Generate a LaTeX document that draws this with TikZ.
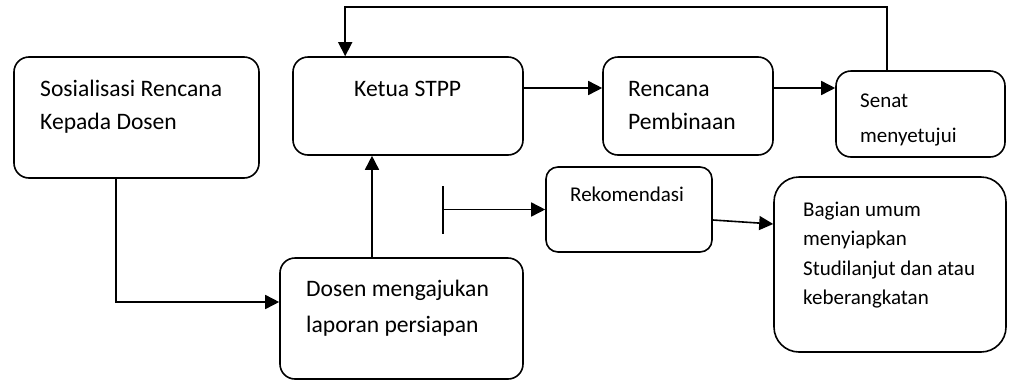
\documentclass[tikz,border=0pt]{standalone}
\usepackage{fontspec}
\setmainfont{Carlito}
\usetikzlibrary{arrows.meta}
\begin{document}
\begin{tikzpicture}[x=1pt,y=-1pt,
  box/.style={draw, line width=1.6pt, rounded corners=15pt, inner sep=0pt},
  conn/.style={line width=1.6pt},
  arr/.style={conn, -{Triangle[length=14pt,width=14pt]}},
  txt/.style={anchor=base west, inner sep=0pt, font=\fontsize{23.6}{28}\selectfont},
  txts/.style={anchor=base west, inner sep=0pt, font=\fontsize{21}{25}\selectfont}]
\useasboundingbox (0,0) rectangle (1010,381);
% boxes
\node[box, minimum width=245pt, minimum height=121pt] (sos) at (136.5,117.5) {};
\node[box, minimum width=230pt, minimum height=98pt] (ketua) at (408,106) {};
\node[box, minimum width=170pt, minimum height=98pt] (renc) at (688,106) {};
\node[box, minimum width=169pt, minimum height=86pt] (senat) at (920.5,114) {};
\node[box, rounded corners=12pt, minimum width=166pt, minimum height=85pt] (rek) at (629,209.5) {};
\node[box, rounded corners=25pt, minimum width=232pt, minimum height=175pt] (bag) at (890,264.5) {};
\node[box, minimum width=243pt, minimum height=121pt] (dosen) at (401.5,318.5) {};
% texts
\node[txt] (t1a) at (40,96) {Sosialisasi Rencana};
\node[txt] (t1b) at (40,129) {Kepada Dosen};
\node[txt] (t2) at (354,96) {Ketua STPP};
\node[txt] (t3a) at (628,96) {Rencana};
\node[txt] (t3b) at (628,129) {Pembinaan};
\node[txts] (t4a) at (860,107) {Senat};
\node[txts] (t4b) at (860,142) {menyetujui};
\node[txts] (t5) at (570,201) {Rekomendasi};
\node[txts] (t6a) at (803,216) {Bagian umum};
\node[txts] (t6b) at (803,245.5) {menyiapkan};
\node[txts] (t6c) at (803,275) {Studilanjut dan atau};
\node[txts] (t6d) at (803,304) {keberangkatan};
\node[txt] (t7a) at (306,296) {Dosen mengajukan};
\node[txt] (t7b) at (306,332) {laporan persiapan};
% connectors
\draw[arr] ([xshift=52pt]senat.north west) |- ([xshift=53pt]ketua.north west |- 0,7) -- ([xshift=53pt]ketua.north west);
\draw[arr] ([yshift=18pt]ketua.east) -- ([yshift=18pt]ketua.east -| renc.west);
\draw[arr] ([yshift=18pt]renc.east) -- ([yshift=18pt]renc.east -| senat.west);
\draw[arr] ([xshift=-20.5pt]sos.south) |- ([yshift=16.5pt]dosen.west);
\draw[arr] ([xshift=-29.5pt]dosen.north) -- ([xshift=-29.5pt]dosen.north |- ketua.south);
\coordinate (bar) at (442,209.5);
\draw[conn, {Bar[width=48pt]}-{Triangle[length=14pt,width=14pt]}] (bar) -- (bar -| rek.west);
\draw[arr] ([yshift=-10.5pt]rek.east) -- ([yshift=40.5pt]bag.west);
\end{tikzpicture}
\end{document}
